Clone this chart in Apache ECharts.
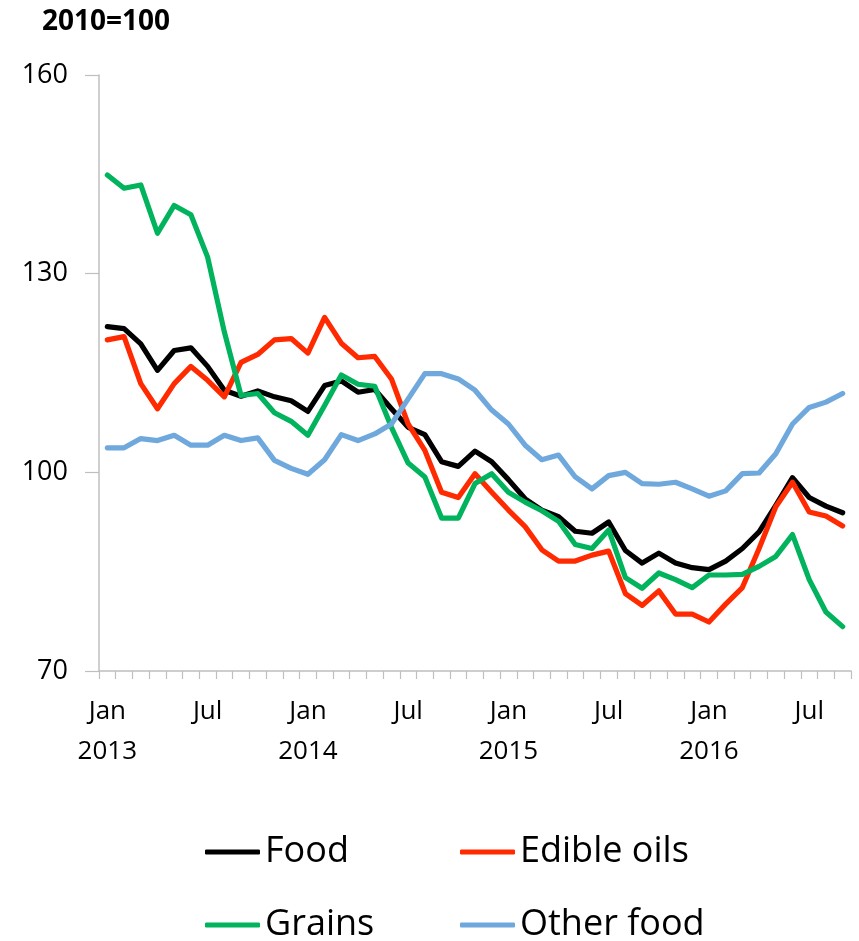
<!DOCTYPE html>
<html>
<head>
<meta charset="utf-8">
<title>Food price indices</title>
<script src="https://cdn.jsdelivr.net/npm/echarts@6/dist/echarts.min.js"></script>
<style>
  html, body { margin: 0; padding: 0; background: #ffffff; }
  #chart { width: 859px; height: 941px; }
</style>
</head>
<body>
<div id="chart"></div>
<script>
// Monthly index values, Jan 2013 – Sep 2016 (2010 = 100)
const monthNames = ["Jan","Feb","Mar","Apr","May","Jun","Jul","Aug","Sep","Oct","Nov","Dec"];
const years = [2013, 2014, 2015, 2016];
const monthCount = 45;

const food = [122.0,121.7,119.4,115.4,118.4,118.8,116.0,112.4,111.5,112.3,111.4,110.8,
  109.2,113.1,113.8,112.1,112.5,109.6,106.8,105.7,101.6,100.9,103.2,101.6,
  98.9,96.0,94.3,93.3,91.1,90.8,92.5,88.2,86.3,87.8,86.3,85.6,
  85.3,86.6,88.5,91.0,95.0,99.2,96.2,94.9,93.9];

const edibleOils = [120.0,120.5,113.4,109.6,113.4,116.0,113.9,111.4,116.6,117.8,120.0,120.2,
  118.0,123.4,119.5,117.3,117.5,114.1,107.3,103.3,97.0,96.2,99.8,97.0,
  94.3,91.8,88.3,86.6,86.6,87.5,88.1,81.7,79.9,82.1,78.6,78.6,
  77.4,80.1,82.6,88.5,94.8,98.5,94.0,93.4,91.9];

const grains = [144.9,142.9,143.4,136.1,140.3,138.9,132.5,121.2,111.6,111.9,109.0,107.7,
  105.6,110.1,114.7,113.3,113.0,106.8,101.4,99.3,93.1,93.1,98.3,99.8,
  97.0,95.5,94.2,92.6,89.1,88.5,91.3,84.1,82.5,84.8,83.8,82.6,
  84.5,84.5,84.6,85.8,87.3,90.6,83.8,78.9,76.7];

const otherFood = [103.7,103.7,105.1,104.8,105.6,104.1,104.1,105.6,104.8,105.2,101.8,100.6,
  99.7,101.9,105.7,104.8,105.8,107.3,111.1,114.9,114.9,114.1,112.4,109.4,
  107.3,104.1,101.9,102.6,99.3,97.5,99.5,100.0,98.3,98.2,98.5,97.5,
  96.4,97.2,99.8,99.9,102.8,107.3,109.8,110.6,111.9];

const yTicks = { min: 70, max: 160, interval: 30 };

// Category labels: month name, with the year under each January
const categories = [];
for (let i = 0; i < monthCount; i++) {
  const m = monthNames[i % 12];
  const y = years[Math.floor(i / 12)];
  categories.push(m === "Jan" ? m + "\n" + y : m);
}

const FONT = "Open Sans";
const AXIS_GREY = "#BFBFBF";

const seriesDefs = [
  { name: "Food", data: food, color: "#000000" },
  { name: "Edible oils", data: edibleOils, color: "#FF2A00" },
  { name: "Grains", data: grains, color: "#00B35C" },
  { name: "Other food", data: otherFood, color: "#6FA8DC" }
];

// Legend laid out as a 2 x 2 block
const legendPos = [
  { left: 200, top: 829 },
  { left: 455, top: 829 },
  { left: 200, top: 902 },
  { left: 455, top: 902 }
];

const chart = echarts.init(document.getElementById("chart"), null, { renderer: "canvas" });

chart.setOption({
  animation: false,
  backgroundColor: "#ffffff",
  title: {
    text: "2010=100",
    left: 37,
    top: 3,
    textStyle: { fontFamily: FONT, fontSize: 28, fontWeight: "bold", color: "#000000" }
  },
  legend: seriesDefs.map((s, i) => ({
    data: [s.name],
    left: legendPos[i].left,
    top: legendPos[i].top,
    icon: "roundRect",
    itemWidth: 55,
    itemHeight: 5,
    itemGap: 0,
    itemTextGap: 1,
    itemStyle: { borderWidth: 0 },
    textStyle: { fontFamily: FONT, fontSize: 36, color: "#000000" }
  })),
  grid: { left: 99, right: 8, top: 75, bottom: 270, containLabel: false },
  xAxis: {
    type: "category",
    data: categories,
    boundaryGap: true,
    axisLine: { lineStyle: { color: AXIS_GREY, width: 1.5 } },
    axisTick: { show: true, interval: 0, length: 8, lineStyle: { color: AXIS_GREY, width: 1.2 } },
    axisLabel: {
      interval: 5,
      margin: 21,
      fontFamily: FONT,
      fontSize: 26,
      lineHeight: 40,
      color: "#000000"
    },
    splitLine: { show: false }
  },
  yAxis: {
    type: "value",
    min: yTicks.min,
    max: yTicks.max,
    interval: yTicks.interval,
    axisLine: { show: true, lineStyle: { color: AXIS_GREY, width: 1.5 } },
    axisTick: { show: true, length: 14, lineStyle: { color: AXIS_GREY, width: 1.2 } },
    axisLabel: { margin: 31, fontFamily: FONT, fontSize: 27, color: "#000000" },
    splitLine: { show: false }
  },
  series: seriesDefs.map(s => ({
    name: s.name,
    type: "line",
    data: s.data,
    symbol: "none",
    smooth: false,
    color: s.color,
    lineStyle: { color: s.color, width: 5.2, cap: "round", join: "round" }
  }))
});
</script>
</body>
</html>
